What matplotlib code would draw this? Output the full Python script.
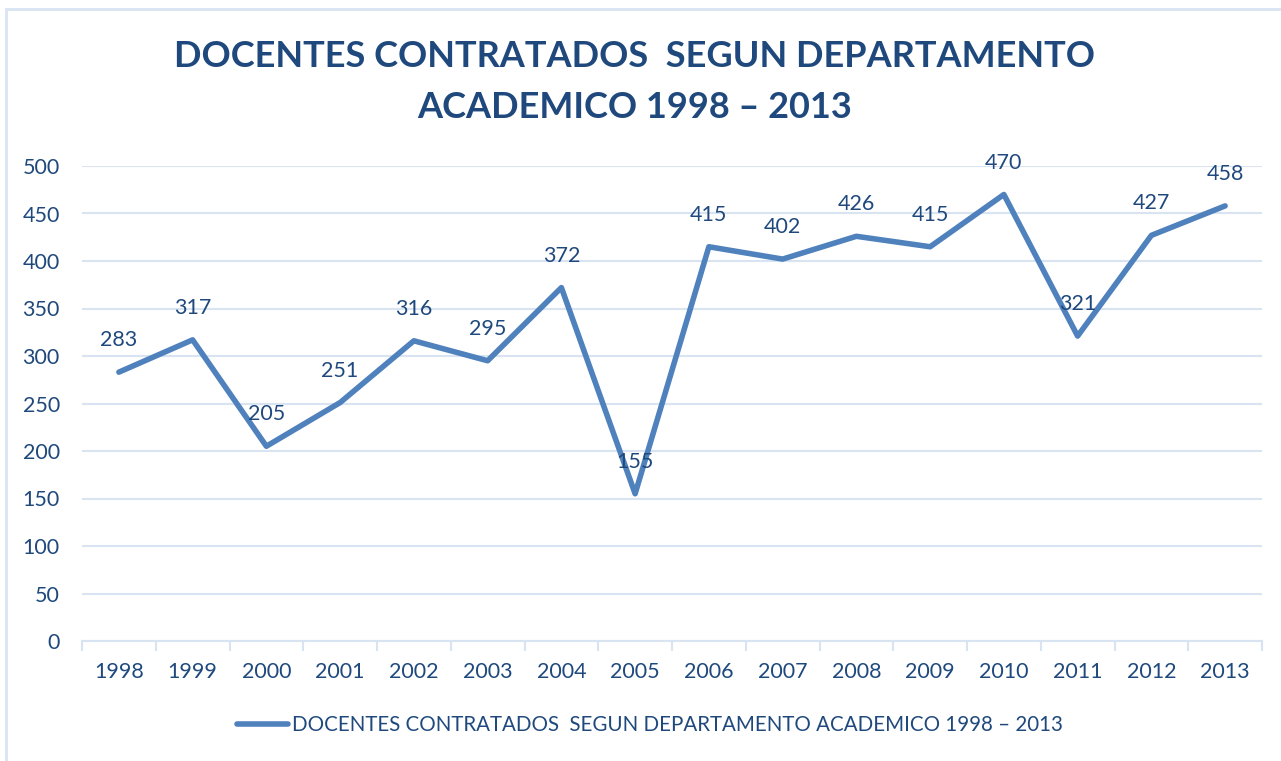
import matplotlib.pyplot as plt
from matplotlib.patches import Rectangle

# data
years = ['1998', '1999', '2000', '2001', '2002', '2003', '2004', '2005',
         '2006', '2007', '2008', '2009', '2010', '2011', '2012', '2013']
docentes = [283, 317, 205, 251, 316, 295, 372, 155,
            415, 402, 426, 415, 470, 321, 427, 458]

title = 'DOCENTES CONTRATADOS  SEGUN DEPARTAMENTO\nACADEMICO 1998 \u2013 2013'
serie = 'DOCENTES CONTRATADOS  SEGUN DEPARTAMENTO ACADEMICO 1998 \u2013 2013'

txt_color = '#1F497D'
line_color = '#4F81BD'
grid_color = '#D9E4F2'

plt.rcParams['font.family'] = ['Lato', 'DejaVu Sans']

W, H = 1281, 761
fig = plt.figure(figsize=(W / 100, H / 100), dpi=100)

# outer chart frame
fig.patches.append(Rectangle((6 / W, -0.01), 1.2, (H - 9) / H + 0.01,
                             transform=fig.transFigure, fill=False,
                             edgecolor=grid_color, linewidth=2))

ax = fig.add_axes([82 / W, 1 - 641 / H, (1262 - 82) / W, (641 - 166) / H])

x = list(range(len(years)))
ax.plot(x, docentes, color=line_color, linewidth=4,
        solid_joinstyle='round', solid_capstyle='round', label=serie)

for xi, v in zip(x, docentes):
    ax.annotate(str(v), (xi, v), xytext=(0, 23), textcoords='offset points',
                ha='center', va='center', fontsize=15.5, color=txt_color)

ax.set_xlim(-0.5, len(years) - 0.5)
ax.set_ylim(0, 500)
ax.set_yticks(range(0, 501, 50))
ax.set_xticks(x)
ax.set_xticklabels(years)
ax.set_xticks([i + 0.5 for i in range(-1, len(years))], minor=True)

ax.grid(axis='y', color=grid_color, linewidth=1.5)
ax.set_axisbelow(True)
for s in ['top', 'right', 'left']:
    ax.spines[s].set_visible(False)
ax.spines['bottom'].set_color(grid_color)
ax.spines['bottom'].set_linewidth(1.5)

ax.tick_params(axis='y', length=0, pad=16, labelsize=15.5, labelcolor=txt_color)
ax.tick_params(axis='x', which='major', length=0, pad=15, labelsize=15.5,
               labelcolor=txt_color)
ax.tick_params(axis='x', which='minor', length=7, width=1.5, color=grid_color)

fig.text(635 / W, 1 - 82 / H, title, ha='center',
         va='center', fontsize=26, fontweight='bold', color=txt_color,
         linespacing=1.7)

leg = fig.legend(loc='center', bbox_to_anchor=(650 / W, 1 - 725 / H),
                 frameon=False, fontsize=14.8, handlelength=2.5,
                 handletextpad=0.2, labelcolor=txt_color)

fig.savefig('out.png', dpi=100)
